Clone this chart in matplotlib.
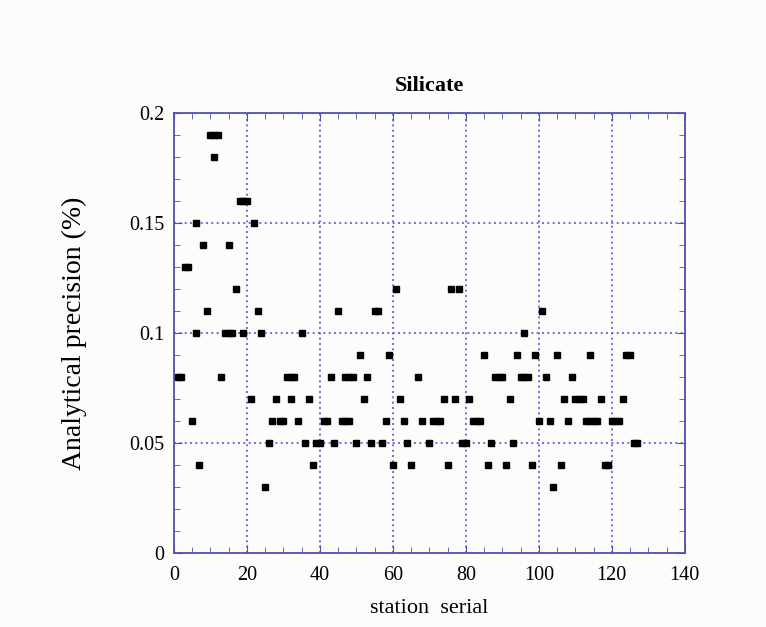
import matplotlib
matplotlib.use("Agg")
import matplotlib.pyplot as plt
from matplotlib.ticker import MultipleLocator

# station serial numbers, grouped by precision value (%)
st_019 = [10, 11, 12]
st_018 = [11]
st_016 = [18, 19, 20]
st_015 = [6, 22]
st_014 = [8, 15]
st_013 = [3, 4]
st_012 = [17, 61, 76, 78]
st_011 = [9, 23, 45, 55, 56, 101]
st_010 = [6, 14, 15, 16, 19, 24, 35, 96]
st_009 = [51, 59, 85, 94, 99, 105, 114, 124, 125]
st_008 = [1, 2, 13, 31, 32, 33, 43, 47, 48, 49, 53, 67, 88, 89, 90, 95, 96, 97, 102, 109]
st_007 = [21, 28, 32, 37, 52, 62, 74, 77, 81, 92, 107, 110, 111, 112, 117, 123]
st_006 = [5, 27, 29, 30, 34, 41, 42, 46, 47, 48, 58, 63, 68, 71, 72, 73, 82, 83, 84,
          100, 103, 108, 113, 114, 115, 116, 120, 121, 122]
st_005 = [26, 36, 39, 40, 44, 50, 54, 57, 64, 70, 79, 80, 87, 93, 126, 127]
st_004 = [7, 38, 60, 65, 75, 86, 91, 98, 106, 118, 119]
st_003 = [25, 104]

groups = [(0.19, st_019), (0.18, st_018), (0.16, st_016), (0.15, st_015), (0.14, st_014),
          (0.13, st_013), (0.12, st_012), (0.11, st_011), (0.10, st_010), (0.09, st_009),
          (0.08, st_008), (0.07, st_007), (0.06, st_006), (0.05, st_005), (0.04, st_004),
          (0.03, st_003)]

stations = []; precision = []
for val, sts in groups:
    stations += sts
    precision += [val] * len(sts)

blue = '#5050b8'
plt.rcParams['font.family'] = ['Liberation Serif', 'DejaVu Serif']

fig = plt.figure(figsize=(7.66, 6.27), dpi=100)
fig.patch.set_facecolor('#fcfcfa')
ax = fig.add_axes([0.227, 0.1175, 0.667, 0.7015])
ax.set_facecolor('#fcfcfa')

ax.plot(stations, precision, linestyle='none', marker='s', ms=5, color='black', zorder=3)

ax.set_xlim(0, 140)
ax.set_ylim(0, 0.2)
ax.xaxis.set_major_locator(MultipleLocator(20))
ax.xaxis.set_minor_locator(MultipleLocator(5))
ax.yaxis.set_major_locator(MultipleLocator(0.05))
ax.yaxis.set_minor_locator(MultipleLocator(0.01))
ax.set_yticks([0, 0.05, 0.1, 0.15, 0.2])
ax.set_yticklabels(['0', '0.05', '0.1', '0.15', '0.2'])

ax.grid(True, which='major', color='#5a5ad2', linestyle=(0, (1.2, 2)), linewidth=1.2)
for s in ax.spines.values():
    s.set_color(blue)
    s.set_linewidth(1.3)
ax.tick_params(which='both', direction='in', top=True, right=True, color=blue,
               labelsize=14.5)
ax.tick_params(axis='x', pad=9)
ax.tick_params(axis='y', pad=7)
ax.tick_params(which='major', length=6)
ax.tick_params(which='minor', length=4)

ax.set_title('Silicate', fontsize=16, fontweight='bold', pad=16)
ax.set_xlabel('station  serial', fontsize=16, labelpad=10)
ax.set_ylabel('Analytical precision (%)', fontsize=20, labelpad=30)

fig.savefig('out.png', dpi=100, facecolor=fig.get_facecolor())
